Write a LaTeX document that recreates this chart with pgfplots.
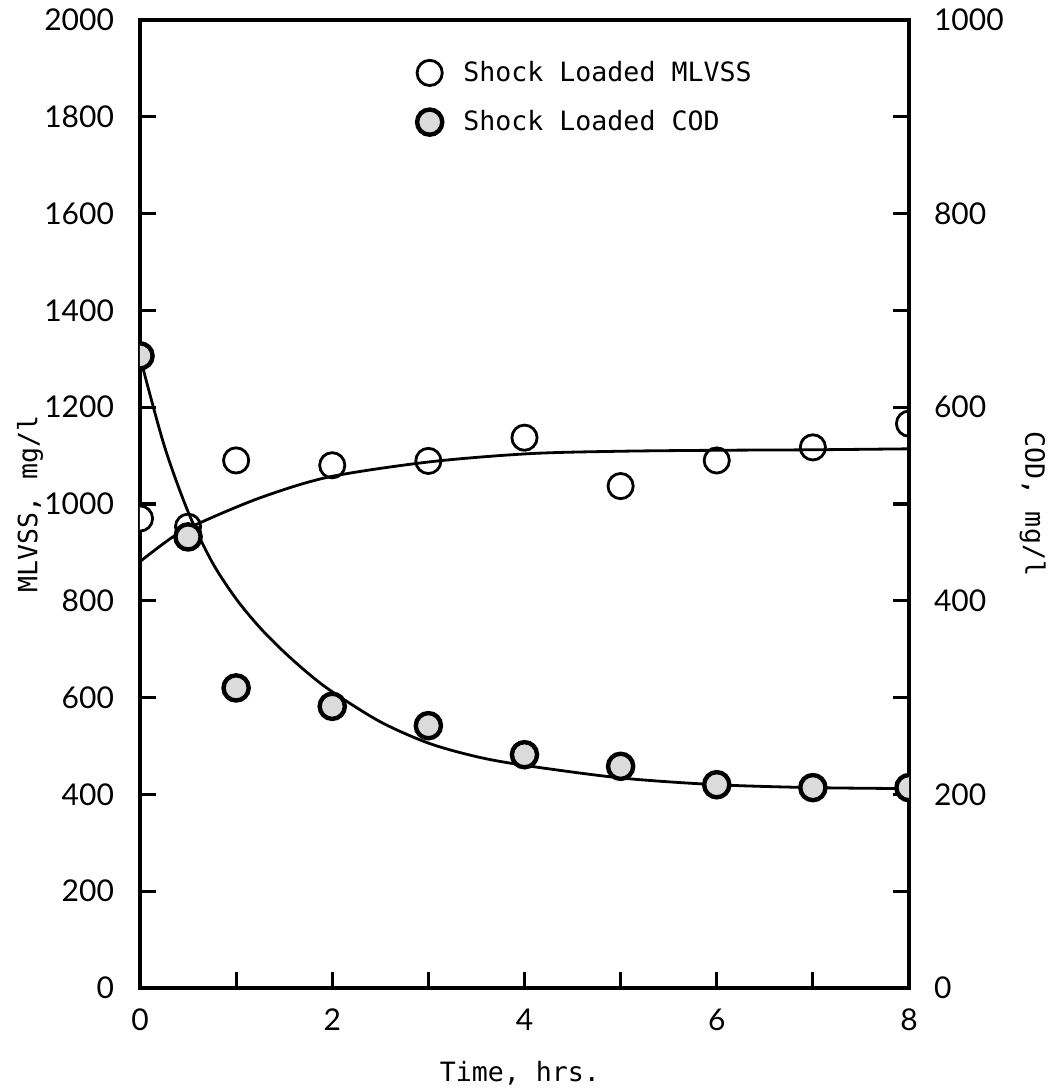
\documentclass[border=0pt]{standalone}
\usepackage{fontspec}
\setmainfont{Lato}
\newfontfamily\mono{DejaVu Sans Mono}
\usepackage{pgfplots}
\pgfplotsset{compat=1.18}

\pgfplotsset{
  openpt/.style={only marks, mark=*, mark size=6.3pt,
    mark options={draw=black, fill=white, line width=1.4pt}},
  fillpt/.style={only marks, mark=*, mark size=6.3pt,
    mark options={draw=black, fill=black!14, line width=2.2pt}},
  common/.style={
    width=384.5pt, height=484pt, scale only axis,
    xmin=0, xmax=8,
    axis line style={line width=1.6pt},
    major tick style={line width=1.6pt, black},
    major tick length=8pt,
    tick align=inside,
    clip marker paths=true,
    tick label style={font=\fontsize{15}{18}\selectfont},
    /pgf/number format/assume math mode=true,
    /pgf/number format/1000 sep={},
  },
}

\begin{document}
\begin{tikzpicture}
\begin{axis}[
  common,
  ymin=0, ymax=2000,
  xtick={0,1,...,8},
  xticklabels={0,,2,,4,,6,,8},
  ytick={0,200,...,2000},
  xtick pos=bottom, ytick pos=left,
  xticklabel style={yshift=-7pt},
  yticklabel style={xshift=-9.5pt},
  xlabel={\mono\fontsize{13.3}{16}\selectfont Time, hrs.},
  xlabel style={at={(axis description cs:0.494,-0.088)}, anchor=center},
  ylabel={\mono\fontsize{13.3}{16}\selectfont MLVSS, mg/l},
  ylabel style={at={(axis description cs:-0.143,0.5)}, anchor=center},
  legend style={at={(axis description cs:0.352,0.966)}, anchor=north west,
    draw=none, fill=none, font=\mono\fontsize{13.3}{16}\selectfont,
    row sep=9pt, cells={anchor=west},
    /tikz/every odd column/.append style={column sep=0.3cm}},
]
\addplot[openpt] coordinates {
  (0,970) (0.5,953) (1,1090) (2,1080) (3,1089) (4,1137) (5,1037) (6,1090) (7,1117) (8,1166)
};
\addlegendentry{Shock Loaded MLVSS}
\addplot[line width=1.4pt, smooth, forget plot] coordinates {
  (0,881) (0.35,933) (0.69,967) (1.28,1015) (1.97,1056) (3.01,1087) (4.05,1104) (5,1109) (6,1111) (7,1112) (8,1114)
};
\addlegendimage{fillpt}
\addlegendentry{Shock Loaded COD}
\end{axis}

\begin{axis}[
  common,
  ymin=0, ymax=1000,
  axis x line=none,
  axis y line*=right,
  ytick={0,100,...,1000},
  yticklabels={0,,200,,400,,600,,800,,1000},
  yticklabel style={xshift=9pt},
  ylabel={\mono\fontsize{13.3}{16}\selectfont COD, mg/l},
  ylabel style={at={(axis description cs:1.161,0.5)}, anchor=center, rotate=180},
]
\addplot[line width=1.4pt, smooth] coordinates {
  (0,652) (0.25,561) (0.5,492) (0.75,440) (1,402) (1.25,372) (1.5,347) (1.75,325) (2,306) (2.5,275) (3,253) (3.5,239) (4,230) (5,217) (6,210) (7,207) (8,206)
};
\addplot[fillpt] coordinates {
  (0,653) (0.5,466) (1,310) (2,291) (3,271) (4,241) (5,229) (6,210) (7,207) (8,207)
};
\coordinate (ll) at (rel axis cs:0,0);
\coordinate (ur) at (rel axis cs:1,1);
\end{axis}
\path ([xshift=-70pt,yshift=-52pt]ll) rectangle ([xshift=73pt,yshift=10pt]ur);
\end{tikzpicture}
\end{document}
